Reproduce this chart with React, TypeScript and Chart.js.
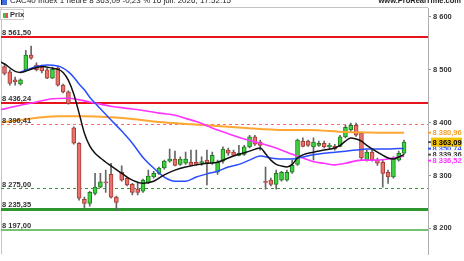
import React, { useEffect, useRef } from 'react';
import { Chart, registerables } from 'chart.js';

Chart.register(...registerables);

// ---- Candles (1 hour CAC40) ----
const opens = [
  8506, 8496, 8481, 8473, 8500, 8528, 8509, 8505, 8500, 8484,
  8503, 8471, 8458, 8390, 8361, 8255, 8247, 8266, 8278, 8288,
  8302, 8259, 8306, 8295, 8283, 8274, 8270, 8287, 8297, 8304,
  8314, 8327, 8331, 8321, 8323, 8325, 8325, 8324, 8329, 8323,
  8306, 8327, 8348, 8344, 8338, 8340, 8354, 8373, 8363, 8289,
  8291, 8283, 8291, 8291, 8306, 8321, 8365, 8365, 8354, 8357,
  8361, 8354, 8355, 8355, 8373, 8386, 8395, 8380, 8329, 8344,
  8329, 8325, 8306, 8297, 8329, 8342,
];
const highs = [
  8511, 8500, 8486, 8483, 8537, 8545, 8513, 8509, 8503, 8505,
  8507, 8473, 8460, 8392, 8362, 8259, 8270, 8304, 8304, 8310,
  8323, 8261, 8318, 8297, 8285, 8285, 8293, 8310, 8308, 8316,
  8329, 8350, 8346, 8335, 8344, 8348, 8348, 8335, 8348, 8344,
  8329, 8354, 8352, 8348, 8357, 8357, 8376, 8376, 8367, 8316,
  8295, 8310, 8308, 8310, 8329, 8369, 8371, 8367, 8371, 8365,
  8365, 8361, 8359, 8376, 8395, 8399, 8399, 8382, 8348, 8348,
  8333, 8329, 8310, 8335, 8346, 8367,
];
const lows = [
  8490, 8471, 8471, 8471, 8498, 8520, 8498, 8494, 8483, 8483,
  8469, 8456, 8435, 8359, 8253, 8238, 8242, 8263, 8277, 8268,
  8257, 8234, 8289, 8280, 8263, 8263, 8268, 8285, 8295, 8302,
  8312, 8325, 8318, 8319, 8321, 8318, 8319, 8319, 8282, 8321,
  8302, 8323, 8338, 8337, 8337, 8338, 8352, 8357, 8348, 8274,
  8280, 8274, 8289, 8289, 8304, 8319, 8354, 8355, 8329, 8355,
  8352, 8350, 8348, 8354, 8371, 8384, 8374, 8329, 8327, 8327,
  8319, 8278, 8285, 8295, 8327, 8340,
];
const closes = [
  8493, 8474, 8477, 8481, 8528, 8522, 8500, 8498, 8484, 8501,
  8471, 8458, 8436, 8361, 8257, 8247, 8268, 8278, 8288, 8286,
  8259, 8249, 8291, 8282, 8268, 8268, 8291, 8299, 8304, 8314,
  8327, 8331, 8319, 8331, 8331, 8319, 8321, 8326, 8323, 8338,
  8325, 8350, 8342, 8338, 8342, 8354, 8373, 8359, 8357, 8287,
  8283, 8304, 8306, 8306, 8319, 8367, 8355, 8357, 8363, 8361,
  8354, 8357, 8350, 8373, 8391, 8395, 8376, 8333, 8344, 8329,
  8323, 8304, 8297, 8333, 8342, 8363.09,
];

// ---- Moving averages (candle index, value) ----
const maBlackIdx = [-1, 0, 2, 3, 5, 7, 9, 10, 11, 12, 13, 14, 15, 16, 17, 18, 20, 22, 24, 26, 28, 30, 32, 34, 36, 38, 40, 42, 44, 46, 48, 49, 50, 51, 52, 53, 54, 55, 56, 58, 60, 62, 63, 64, 65, 66, 67, 68, 70, 72, 73, 74, 75];
const maBlackVal = [8516, 8511, 8497, 8495, 8501, 8506, 8503, 8501, 8495, 8480, 8454, 8418, 8380, 8356, 8342, 8333, 8318, 8304, 8291, 8285, 8289, 8301, 8310, 8316, 8320, 8323, 8325, 8333, 8340, 8346, 8352, 8341, 8329, 8321, 8318, 8316, 8321, 8333, 8339, 8344, 8348, 8352, 8357, 8365, 8371, 8369, 8365, 8357, 8344, 8333, 8331, 8335, 8339.36];

const maBlueIdx = [3, 4, 6, 8, 10, 11, 12, 13, 14, 15, 16, 17, 18, 20, 22, 24, 26, 28, 30, 32, 34, 36, 38, 40, 42, 44, 46, 48, 50, 52, 54, 56, 58, 60, 62, 64, 66, 68, 70, 72, 74, 75];
const maBlueVal = [8496, 8499, 8506, 8509, 8507, 8503, 8496, 8486, 8473, 8462, 8448, 8437, 8426, 8405, 8384, 8361, 8334, 8314, 8297, 8289, 8289, 8297, 8303, 8308, 8316, 8321, 8329, 8337, 8333, 8331, 8331, 8335, 8339, 8342, 8344, 8346, 8348, 8350, 8350, 8350, 8351, 8350.74];

const maMagentaIdx = [-1, 0, 3, 6, 9, 12, 14, 17, 20, 23, 26, 29, 32, 34, 36, 38, 40, 42, 45, 48, 51, 54, 56, 58, 60, 62, 64, 67, 70, 72, 74, 75];
const maMagentaVal = [8424, 8426, 8433, 8439, 8445, 8446, 8443, 8437, 8431, 8427, 8423, 8418, 8414, 8408, 8402, 8394, 8386, 8379, 8369, 8361, 8352, 8340, 8333, 8326, 8323, 8320, 8323, 8329, 8329, 8331, 8335, 8336.52];

const maOrangeIdx = [-1, 0, 3, 7, 10, 15, 20, 24, 29, 35, 42, 48, 52, 57, 64, 70, 75];
const maOrangeVal = [8400, 8401, 8405, 8410, 8412, 8412, 8410, 8407, 8401, 8397, 8392, 8388, 8386, 8386, 8382, 8381, 8380.96];

// ---- Horizontal levels ----
const levelValues = [8561.5, 8436.24, 8396.41, 8275.0, 8235.35, 8197.0];
const levelStyles = [
  { color: '#e8141c', width: 2, dash: [] as number[] },
  { color: '#e8141c', width: 2, dash: [] as number[] },
  { color: '#ff6b6b', width: 1, dash: [3, 3] },
  { color: '#3a9a3a', width: 1, dash: [3, 3] },
  { color: '#2e962e', width: 3, dash: [] as number[] },
  { color: '#72c272', width: 2, dash: [] as number[] },
];

// ---- Right-side last value labels (blue, black, magenta, orange, price) ----
const lastValues = [8350.74, 8339.36, 8336.52, 8380.96, 8363.09];
const lastStyles = [
  { text: '#3050ff', bg: '#ffffff', mark: '#3050ff' },
  { text: '#333333', bg: '#ffffff', mark: '#555555' },
  { text: '#ff30ff', bg: '#ffffff', mark: '#ff30ff' },
  { text: '#f5a02a', bg: '#ffffff', mark: '#f5a02a' },
  { text: '#000000', bg: '#f3c300', mark: '#555555' },
];

// ---- Axis ----
const yStep = 100;
const yRef = 8400; // price anchored to a pixel row
// layout of the reference picture (pixels)
const Y_REF_PX = 122.6;
const Y_PX_PER_UNIT = 0.5284;
const X_FIRST_PX = 3.5;
const X_STEP_PX = 5.34;

const FONT = "'Liberation Sans', Arial, sans-serif";

function fmt(v: number, d: number): string {
  const s = v.toFixed(d);
  const parts = s.split('.');
  const ip = parts[0].replace(/\B(?=(\d{3})+(?!\d))/g, ' ');
  return parts[1] ? ip + ',' + parts[1] : ip;
}

export default function App() {
  const ref = useRef<HTMLCanvasElement>(null);

  useEffect(() => {
    document.body.style.margin = '0';
    const canvas = ref.current;
    if (!canvas) return;

    const up = opens.map((o, i) => closes[i] >= o);

    const overlay = {
      id: 'overlay',
      beforeDatasetsDraw(chart: any) {
        const { ctx, chartArea: a, scales } = chart;
        const y = scales.y;
        ctx.save();
        ctx.strokeStyle = '#c4c4c4';
        ctx.lineWidth = 1;
        ctx.beginPath();
        ctx.moveTo(0, 7.5);
        ctx.lineTo(a.right, 7.5);
        ctx.moveTo(1.5, 7.5);
        ctx.lineTo(1.5, a.bottom);
        ctx.stroke();
        ctx.beginPath();
        ctx.rect(a.left, a.top, a.right - a.left, a.bottom - a.top);
        ctx.clip();
        levelValues.forEach((v, k) => {
          const st = levelStyles[k];
          let py = y.getPixelForValue(v);
          if (st.width % 2 === 1) py = Math.round(py - 0.5) + 0.5;
          else py = Math.round(py);
          ctx.strokeStyle = st.color;
          ctx.lineWidth = st.width;
          ctx.setLineDash(st.dash);
          ctx.beginPath();
          ctx.moveTo(a.left, py);
          ctx.lineTo(a.right, py);
          ctx.stroke();
        });
        ctx.restore();
      },
      afterDatasetsDraw(chart: any) {
        const { ctx, scales } = chart;
        const y = scales.y;
        ctx.save();
        ctx.font = `bold 7.5px ${FONT}`;
        ctx.fillStyle = '#333';
        ctx.textBaseline = 'alphabetic';
        ctx.textAlign = 'left';
        levelValues.forEach((v, k) => {
          const py = y.getPixelForValue(v);
          ctx.fillText(fmt(v, 2), 2, py - 1 - levelStyles[k].width / 2);
        });
        ctx.restore();
      },
      afterDraw(chart: any) {
        const { ctx, scales, chartArea: a } = chart;
        const y = scales.y;
        const items = lastValues.map((v, k) => ({ v, k, py: y.getPixelForValue(v) }));
        const sorted = [...items].sort((p, q) => q.v - p.v);
        for (let i = 1; i < sorted.length; i++) {
          if (sorted[i].py < sorted[i - 1].py + 6) sorted[i].py = sorted[i - 1].py + 6;
        }
        ctx.save();
        ctx.font = `bold 7.5px ${FONT}`;
        ctx.textBaseline = 'middle';
        ctx.textAlign = 'left';
        items.forEach((it) => {
          const st = lastStyles[it.k];
          const x0 = a.right + 3;
          ctx.fillStyle = st.bg;
          ctx.fillRect(x0, it.py - 4.5, 31, 9);
          ctx.strokeStyle = st.mark;
          ctx.lineWidth = 2;
          ctx.beginPath();
          ctx.moveTo(a.right, it.py);
          ctx.lineTo(a.right + 3, it.py);
          ctx.stroke();
          ctx.fillStyle = st.text;
          ctx.fillText(fmt(it.v, 2), x0 + 1.5, it.py + 0.5);
        });
        ctx.restore();
      },
    };

    const line = (idx: number[], val: number[], color: string, width: number) => ({
      type: 'line' as const,
      data: idx.map((x, i) => ({ x, y: val[i] })),
      borderColor: color,
      borderWidth: width,
      pointRadius: 0,
      cubicInterpolationMode: 'monotone' as const,
      fill: false,
    });

    const chart: any = new Chart(canvas, {
      type: 'bar',
      data: {
        datasets: [
          line(maBlackIdx, maBlackVal, '#111111', 1.5),
          line(maBlueIdx, maBlueVal, '#2a4dff', 1.5),
          line(maMagentaIdx, maMagentaVal, '#ff33ff', 1.6),
          line(maOrangeIdx, maOrangeVal, '#ffa733', 2),
          {
            type: 'bar' as const,
            data: opens.map((o, i) => ({ x: i, y: [o, closes[i]] })) as any,
            backgroundColor: up.map((u) => (u ? '#3fd23f' : '#e8726c')),
            borderColor: up.map((u) => (u ? '#1d7d1d' : '#a83a36')),
            borderWidth: 1,
            borderSkipped: false,
            barThickness: 4,
            grouped: false,
            minBarLength: 1,
          } as any,
          {
            type: 'bar' as const,
            data: lows.map((l, i) => ({ x: i, y: [l, highs[i]] })) as any,
            backgroundColor: '#666666',
            borderWidth: 0,
            barThickness: 1,
            grouped: false,
          } as any,
        ],
      },
      options: {
        responsive: false,
        animation: false,
        devicePixelRatio: 1,
        layout: { padding: { top: 8, left: 0, right: 0, bottom: 0 } },
        plugins: { legend: { display: false }, tooltip: { enabled: false } },
        scales: {
          x: { type: 'linear', offset: false, min: -0.65, max: 79.5, display: false },
          y: {
            type: 'linear',
            position: 'right',
            min: 8138,
            max: 8617,
            afterFit: (s: any) => {
              s.width = 36;
            },
            grid: { drawOnChartArea: false, drawTicks: true, tickLength: 3, color: '#999' },
            border: { display: true, color: '#b0b0b0' },
            ticks: {
              stepSize: yStep,
              includeBounds: false,
              padding: 2,
              color: '#333',
              font: { size: 7.5, weight: 'bold', family: FONT },
              callback: (v: any) => fmt(Number(v), 0),
            },
          },
        },
      } as any,
      plugins: [overlay],
    });

    // Re-anchor the scales so the price / time grid lands where the reference has it
    const a = chart.chartArea;
    chart.options.scales.y.max = yRef + (Y_REF_PX - a.top) / Y_PX_PER_UNIT;
    chart.options.scales.y.min = yRef - (a.bottom - Y_REF_PX) / Y_PX_PER_UNIT;
    chart.options.scales.x.min = (a.left - X_FIRST_PX) / X_STEP_PX;
    chart.options.scales.x.max = (a.right - X_FIRST_PX) / X_STEP_PX;
    chart.update('none');

    return () => chart.destroy();
  }, []);

  return (
    <div
      style={{
        position: 'fixed',
        left: 0,
        top: 0,
        width: 464,
        height: 261,
        overflow: 'hidden',
        background: '#fff',
        fontFamily: FONT,
      }}
    >
      <canvas ref={ref} width={464} height={261} style={{ position: 'absolute', left: 0, top: 0 }} />
      <div style={{ position: 'absolute', left: 1, top: 0, width: 5, height: 5, background: '#3a6fd8', borderLeft: '1px solid #222' }} />
      <div
        style={{
          position: 'absolute',
          left: 10,
          top: -3.5,
          fontSize: 8,
          lineHeight: '8px',
          color: '#222',
          whiteSpace: 'nowrap',
        }}
      >
        CAC40 Index 1 heure 8 363,09 -0,23 % 16 juil. 2026, 17:52:15
      </div>
      <div
        style={{
          position: 'absolute',
          right: 3,
          top: -3.5,
          fontSize: 7.5,
          fontWeight: 'bold',
          lineHeight: '8px',
          color: '#222',
          whiteSpace: 'nowrap',
        }}
      >
        www.ProRealTime.com
      </div>
      <div
        style={{
          position: 'absolute',
          left: 0,
          top: 9,
          width: 24,
          height: 11,
          border: '1px solid #cfcfcf',
          background: '#fff',
          boxSizing: 'border-box',
        }}
      >
        <div style={{ position: 'absolute', left: 2, top: 2.5, width: 2.5, height: 5, background: '#3fbf3f' }} />
        <div style={{ position: 'absolute', left: 4.5, top: 2.5, width: 2.5, height: 5, background: '#e05050' }} />
        <div
          style={{
            position: 'absolute',
            left: 9,
            top: 0,
            fontSize: 7.5,
            fontWeight: 'bold',
            lineHeight: '10px',
            color: '#333',
          }}
        >
          Prix
        </div>
      </div>
    </div>
  );
}
